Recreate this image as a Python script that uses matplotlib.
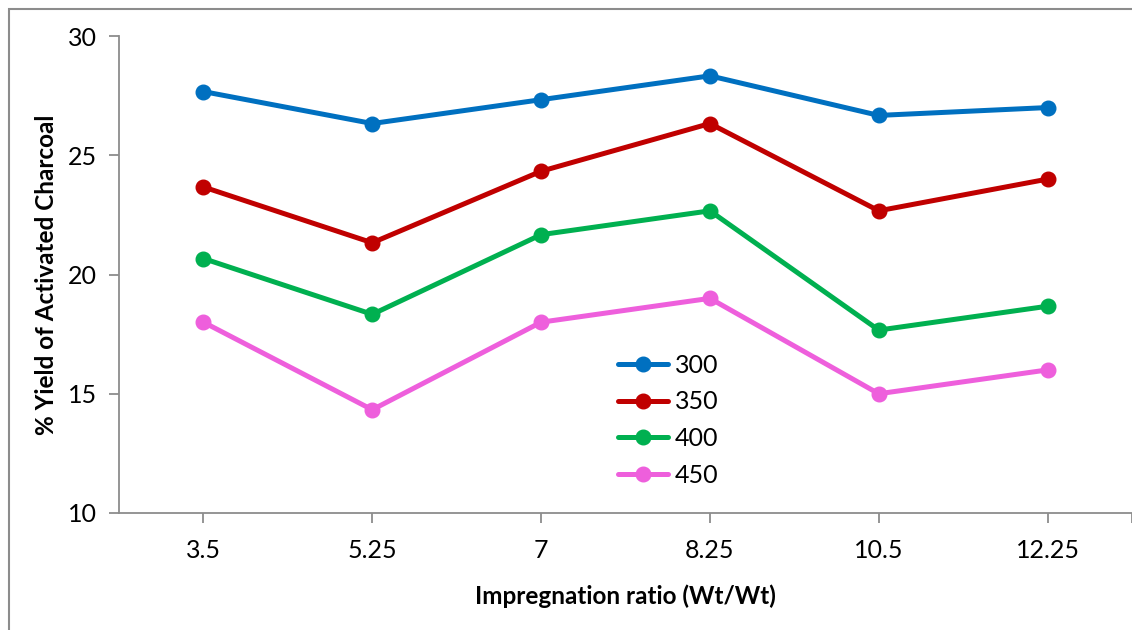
import matplotlib.pyplot as plt
from matplotlib.patches import Rectangle

plt.rcParams['font.family'] = ['Lato', 'DejaVu Sans']

# impregnation ratios (categorical x axis)
ratios = ['3.5', '5.25', '7', '8.25', '10.5', '12.25']

# % yield for each activation temperature
yield_300 = [27.67, 26.33, 27.33, 28.33, 26.67, 27.0]
yield_350 = [23.67, 21.33, 24.33, 26.33, 22.67, 24.0]
yield_400 = [20.67, 18.33, 21.67, 22.67, 17.67, 18.67]
yield_450 = [18.0, 14.33, 18.0, 19.0, 15.0, 16.0]

series = [
    ('300', yield_300, '#0070C0'),
    ('350', yield_350, '#C00000'),
    ('400', yield_400, '#00B050'),
    ('450', yield_450, '#EE5FDC'),
]

fig = plt.figure(figsize=(11.32, 6.3), dpi=100)
ax = fig.add_axes([119 / 1132, 1 - 513 / 630, 1 - 119 / 1132, (513 - 36) / 630])

# outer chart border like the Excel frame (right and bottom edges cut off)
fig.patches.append(Rectangle((8.5 / 1132, -0.05), 1.0, 1.05 - 9.5 / 630, transform=fig.transFigure,
                             fill=False, edgecolor='#8c8c8c', linewidth=1.5))

xs = range(len(ratios))
for name, vals, color in series:
    ax.plot(xs, vals, color=color, linewidth=3.6, marker='o', markersize=10.5,
            label=name, solid_capstyle='round')

ax.set_xlim(-0.5, len(ratios) - 0.5)
ax.set_ylim(10, 30)
ax.set_yticks([10, 15, 20, 25, 30])
ax.set_xticks(list(xs))
ax.set_xticklabels(ratios)
ax.set_xticks([len(ratios) - 0.5], minor=True)

for side in ['top', 'right']:
    ax.spines[side].set_visible(False)
for side in ['left', 'bottom']:
    ax.spines[side].set_color('#8c8c8c')
    ax.spines[side].set_linewidth(1.3)

ax.tick_params(axis='both', which='both', colors='#8c8c8c', length=7, width=1.3, labelsize=18,
               labelcolor='black')
ax.tick_params(axis='x', pad=12)
ax.tick_params(axis='y', pad=9)

ax.set_xlabel('Impregnation ratio (Wt/Wt)', fontsize=17.5, fontweight='bold', labelpad=16)
ax.set_ylabel('% Yield of Activated Charcoal', fontsize=17.5, fontweight='bold', labelpad=7)

ax.legend(loc='upper left', bbox_to_anchor=(0.483, 0.355), frameon=False, fontsize=18,
          handlelength=2.0, labelspacing=0.55, handletextpad=0.25, borderaxespad=0)

fig.savefig('out.png', dpi=100)
